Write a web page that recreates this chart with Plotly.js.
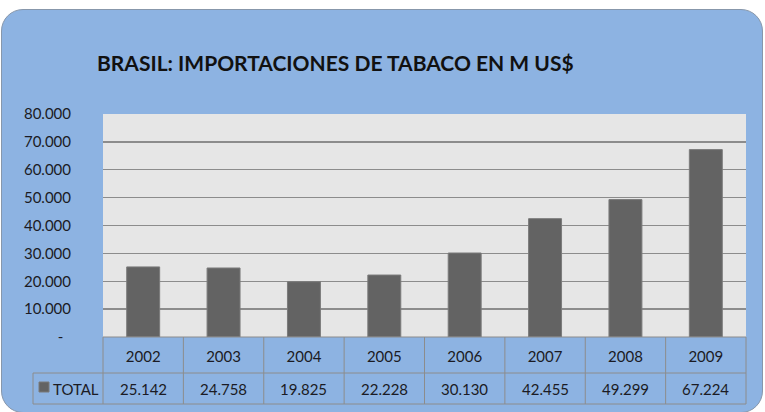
<!DOCTYPE html>
<html>
<head>
<meta charset="utf-8">
<script src="https://cdn.plot.ly/plotly-3.0.1.min.js"></script>
<style>
  html, body { margin: 0; padding: 0; background: #ffffff; }
  #wrap { position: relative; width: 765px; height: 412px; overflow: hidden; }
  #bg { position: absolute; left: 1px; top: 9px; width: 762px; height: 404px;
        background: #8db3e2; border: 1px solid #8797ab; border-radius: 22px; box-sizing: border-box; }
  #chart { position: absolute; left: 0; top: 0; width: 765px; height: 412px; }
</style>
</head>
<body>
<div id="wrap">
  <div id="bg"></div>
  <div id="chart"></div>
</div>
<script>
// ---- data ----
const years = ["2002", "2003", "2004", "2005", "2006", "2007", "2008", "2009"];
const totals = [25142, 24758, 19825, 22228, 30130, 42455, 49299, 67224];
const seriesName = "TOTAL";
const yTickVals = [0, 10000, 20000, 30000, 40000, 50000, 60000, 70000, 80000];
const yTickText = ["-\u00a0\u00a0", "10.000", "20.000", "30.000", "40.000", "50.000", "60.000", "70.000", "80.000"];
const chartTitle = "BRASIL: IMPORTACIONES DE TABACO EN M US$";

// ---- layout helpers ----
const W = 765, H = 412;
const L = 103, R = 746, T = 114, B = 337;
const px2x = p => (p - L) / (R - L);
const px2y = p => (B - p) / (B - T);
const fmt = v => String(v).replace(/\B(?=(\d{3})+(?!\d))/g, ".");
const FONT = "Lato, 'Open Sans', sans-serif";
const TXT = "#1b1b24";
const lineCol = "#8c8c8c";
const n = years.length;

const trace = {
  type: "bar",
  x: years,
  y: totals,
  name: seriesName,
  marker: { color: "#636363", line: { color: "#7b7b7b", width: 1 } },
  hoverinfo: "x+y"
};

const shapes = [];
const annotations = [];
const rowMid = px2y(373), rowBot = px2y(404), legLeft = px2x(33);
// vertical table lines
for (let i = 0; i <= n; i++) {
  shapes.push({ type: "line", xref: "paper", yref: "paper", x0: i / n, x1: i / n, y0: 0, y1: rowBot,
                line: { color: lineCol, width: 1 } });
}
// horizontal table lines
shapes.push({ type: "line", xref: "paper", yref: "paper", x0: 0, x1: 1, y0: 0, y1: 0, line: { color: lineCol, width: 1 } });
shapes.push({ type: "line", xref: "paper", yref: "paper", x0: legLeft, x1: 1, y0: rowMid, y1: rowMid, line: { color: lineCol, width: 1 } });
shapes.push({ type: "line", xref: "paper", yref: "paper", x0: legLeft, x1: 1, y0: rowBot, y1: rowBot, line: { color: lineCol, width: 1 } });
shapes.push({ type: "line", xref: "paper", yref: "paper", x0: legLeft, x1: legLeft, y0: rowMid, y1: rowBot, line: { color: lineCol, width: 1 } });
// legend key square
shapes.push({ type: "rect", xref: "paper", yref: "paper", x0: px2x(39), x1: px2x(49), y0: px2y(382), y1: px2y(392),
              fillcolor: "#636363", line: { color: "#7b7b7b", width: 1 } });
annotations.push({ xref: "paper", yref: "paper", x: px2x(51), y: px2y(388.5), xanchor: "left", yanchor: "middle",
                   text: seriesName, showarrow: false, font: { family: FONT, size: 15, color: TXT } });
// values row (x given as category index)
years.forEach((yr, i) => {
  annotations.push({ xref: "x", yref: "paper", x: i, y: px2y(388.5), xanchor: "center", yanchor: "middle",
                     text: fmt(totals[i]), showarrow: false, font: { family: FONT, size: 15, color: TXT } });
});

const layout = {
  width: W, height: H,
  margin: { l: L, r: W - R, t: T, b: H - B, pad: 0 },
  paper_bgcolor: "rgba(0,0,0,0)",
  plot_bgcolor: "#e6e6e6",
  showlegend: false,
  bargap: 0.59,
  title: { text: "<b>" + chartTitle + "</b>", x: 97 / W, xanchor: "left", xref: "container",
           y: 1 - 64 / H, yanchor: "middle", yref: "container",
           font: { family: "Lato, sans-serif", size: 21, color: "#111111" } },
  xaxis: {
    type: "category",
    range: [-0.5, n - 0.5],
    autorange: false,
    showgrid: false, zeroline: false, showline: false,
    ticks: "outside", ticklen: 6, tickcolor: "rgba(0,0,0,0)",
    tickfont: { family: FONT, size: 15, color: TXT },
    fixedrange: true
  },
  yaxis: {
    range: [0, 80000],
    autorange: false,
    tickvals: yTickVals, ticktext: yTickText,
    showgrid: true, gridcolor: lineCol, gridwidth: 1.3,
    zeroline: false, showline: false,
    ticks: "outside", ticklen: 28, tickcolor: "rgba(0,0,0,0)",
    tickfont: { family: FONT, size: 15, color: TXT },
    fixedrange: true
  },
  shapes: shapes,
  annotations: annotations
};

Plotly.newPlot("chart", [trace], layout, { displayModeBar: false, staticPlot: true });
</script>
</body>
</html>
